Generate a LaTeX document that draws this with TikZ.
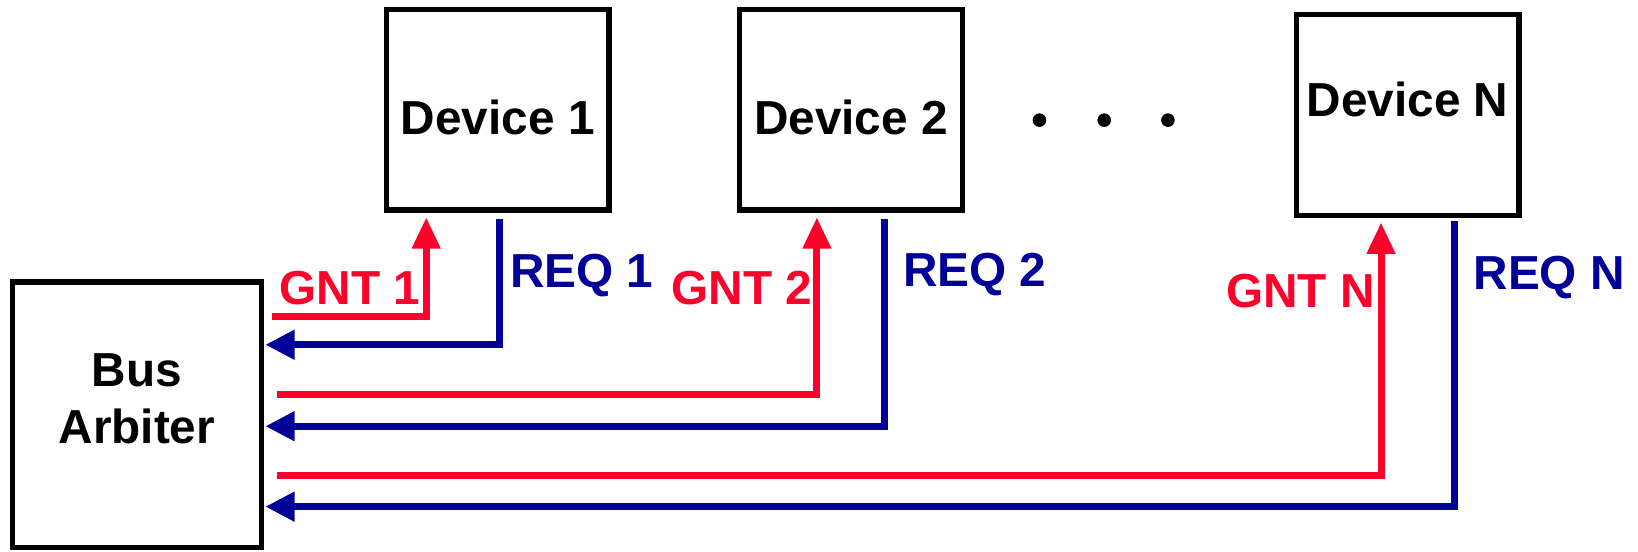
\documentclass[tikz,border=0pt]{standalone}
\usepackage{fontspec}
\setmainfont{Liberation Sans}
\usetikzlibrary{arrows.meta}
\definecolor{gntred}{RGB}{255,0,42}
\definecolor{reqblue}{RGB}{0,0,153}
\begin{document}
\begin{tikzpicture}[
  font=\fontsize{13}{15.5}\selectfont\bfseries,
  box/.style={draw, line width=1.4pt, outer sep=0pt, inner sep=0pt},
  gnt/.style={gntred, line width=1.9pt, -{Triangle[width=0.26cm,length=0.30cm]}},
  req/.style={reqblue, line width=1.9pt, -{Triangle[width=0.27cm,length=0.28cm]}}]
  \useasboundingbox (0,0) rectangle (15.68,-5.28);

  \node[box, minimum width=2.38cm, minimum height=2.54cm,
        label={[yshift=0.15cm, align=center]center:Bus\\Arbiter}] (arb) at (1.31,-3.97) {};
  % devices: name/text/x/y/text shift
  \foreach \i/\txt/\x/\y/\dy in {1/Device 1/4.765/-1.05/-0.07,
                                 2/Device 2/8.145/-1.05/-0.07,
                                 n/Device N/13.475/-1.10/0.15} {
    \node[box, minimum width=2.13cm, minimum height=1.92cm,
          label={[yshift=\dy cm]center:\txt}] (dev\i) at (\x,\y) {};
  }
  \foreach \x in {9.95,10.57,11.18} \fill (\x,-1.15) circle (0.065);

  % grant / request lines (device/start x/grant y/grant x/req x/req start/req y)
  \foreach \i/\gs/\gy/\gx/\rx/\rs/\ry in {1/0.10/0.94/-0.685/0.015/-0.09/0.67,
                                         2/0.15/0.19/-0.325/0.325/-0.09/-0.11,
                                         n/0.15/-0.58/-0.255/0.445/-0.06/-0.88} {
    \draw[gnt] ([shift={(\gs,\gy)}]arb.east) -| ([shift={(\gx,-0.07)}]dev\i.south);
    \draw[req] ([shift={(\rx,\rs)}]dev\i.south) |- ([shift={(0.04,\ry)}]arb.east);
  }

  \node[text=gntred] (gnt1) at (3.35,-2.76) {GNT 1};
  \node[text=reqblue] (req1) at (5.57,-2.64) {REQ 1};
  \node[text=gntred] (gnt2) at (7.10,-2.76) {GNT 2};
  \node[text=reqblue] (req2) at (9.33,-2.63) {REQ 2};
  \node[text=gntred] (gntn) at (12.45,-2.79) {GNT N};
  \node[text=reqblue] (reqn) at (14.83,-2.66) {REQ N};
\end{tikzpicture}
\end{document}
